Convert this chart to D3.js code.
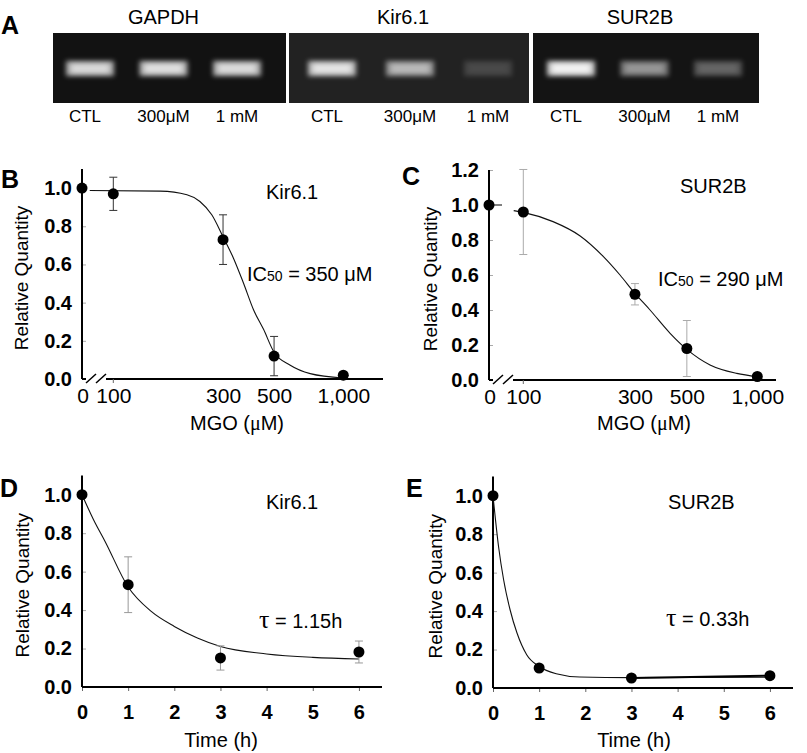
<!DOCTYPE html>
<html>
<head>
<meta charset="utf-8">
<script src="https://d3js.org/d3.v7.min.js"></script>
<style>
  body { margin: 0; background: white; }
  svg text { font-family: 'Liberation Sans', Arial, sans-serif; fill: #000; }
  .panel { font-size: 25px; font-weight: bold; }
  .gelTitle { font-size: 20px; }
  .lane { font-size: 17px; }
  .ytick text { font-size: 20px; font-weight: bold; }
  .xdose text { font-size: 21px; }
  .xtime text { font-size: 20px; font-weight: bold; }
  .atitle { font-size: 20px; }
  .ylab { font-size: 19px; }
  .note { font-size: 20px; }
</style>
</head>
<body>
<svg id="fig" width="807" height="753"></svg>
<script>
// ---- A: RT-PCR gels ----
const gelNames = ['GAPDH', 'Kir6.1', 'SUR2B'];
const laneLabels = ['CTL', '300μM', '1 mM'];
const gapdhBands = [0.85, 0.88, 0.86];
const kirBands = [0.9, 0.68, 0.2];
const surBands = [1.0, 0.55, 0.36];
const gelShade = ['#121212', '#222222', '#141414'];

// ---- B, C: dose response (MGO, μM); 0 = control ----
const doses = [0, 100, 300, 500, 1000];
const doseTicks = [100, 300, 500, 1000];
const doseTickLabels = ['100', '300', '500', '1,000'];
const kirDoseMean = [1.0, 0.97, 0.73, 0.12, 0.02];
const kirDoseErr = [0, 0.087, 0.13, 0.103, 0];
const surDoseMean = [1.0, 0.96, 0.49, 0.18, 0.02];
const surDoseErr = [0, 0.243, 0.061, 0.16, 0];
// fitted curves: [μM, relative quantity]
const kirDoseFit = [[79, 0.987], [160, 0.984], [209, 0.965], [238, 0.93], [268, 0.86], [300, 0.745],
  [333, 0.633], [368, 0.503], [407, 0.363], [450, 0.26], [500, 0.14], [588, 0.072], [718, 0.028], [1000, 0.005]];
const surDoseFit = [[91, 0.968], [100, 0.958], [134, 0.905], [175, 0.823], [220, 0.705], [259, 0.6],
  [300, 0.495], [348, 0.4], [424, 0.267], [500, 0.175], [628, 0.086], [817, 0.038], [1000, 0.019]];

// ---- D, E: time course (h) ----
const hours = [0, 1, 3, 6];
const hourTicks = [0, 1, 2, 3, 4, 5, 6];
const kirTimeMean = [1.0, 0.532, 0.151, 0.182];
const kirTimeErr = [0, 0.145, 0.063, 0.057];
const surTimeMean = [1.0, 0.104, 0.052, 0.064];
const surTimeErr = [0, 0, 0, 0];
const kirTimeFit = [[0, 1], [0.25, 0.87], [0.5, 0.757], [1, 0.52], [1.5, 0.393], [2, 0.315], [2.5, 0.255],
  [3, 0.211], [4, 0.172], [5, 0.154], [6, 0.146]];
const surTimeFit = [[0, 1], [0.12, 0.736], [0.23, 0.563], [0.37, 0.407], [0.52, 0.286], [0.73, 0.173],
  [1, 0.112], [1.37, 0.074], [1.88, 0.057], [3, 0.054], [6, 0.056]];

const svg = d3.select('#fig');
const defs = svg.append('defs');
defs.append('filter').attr('id', 'blur').attr('x', '-40%').attr('y', '-80%').attr('width', '180%').attr('height', '260%')
  .append('feGaussianBlur').attr('stdDeviation', 2.4);

// gels: extent of each gel and where its first / last lane sit inside it
const gelLeft = [53, 289, 533], gelRight = [286, 529, 759];
const laneFirst = [37, 43, 38], laneLast = [184, 199, 185];
const gelTop = 33, gelBottom = 103;
const gelBands = [gapdhBands, kirBands, surBands];

svg.append('text').attr('class', 'panel').attr('x', 1).attr('y', 34).text('A');

gelNames.forEach(function (name, g) {
  const cx = (gelLeft[g] + gelRight[g]) / 2;
  const lane = d3.scalePoint().domain(laneLabels)
    .range([gelLeft[g] + laneFirst[g], gelLeft[g] + laneLast[g]]);
  svg.append('rect')
    .attr('x', gelLeft[g]).attr('y', gelTop)
    .attr('width', gelRight[g] - gelLeft[g]).attr('height', gelBottom - gelTop)
    .attr('fill', gelShade[g]);
  svg.append('text').attr('class', 'gelTitle')
    .attr('x', cx - 6).attr('y', 24).attr('text-anchor', 'middle').text(name);

  const bands = svg.append('g').selectAll('g').data(gelBands[g]).join('g');
  bands.append('rect')
    .attr('x', (d, i) => lane(laneLabels[i]) - 24).attr('y', 61)
    .attr('width', 48).attr('height', 15)
    .attr('fill', '#fff').attr('opacity', d => 0.75 * d)
    .attr('filter', 'url(#blur)');
  bands.append('rect')
    .attr('x', (d, i) => lane(laneLabels[i]) - 19).attr('y', 64)
    .attr('width', 38).attr('height', 9)
    .attr('fill', '#fff').attr('opacity', d => d * d * 0.8)
    .attr('filter', 'url(#blur)');

  svg.append('g').selectAll('text').data(laneLabels).join('text')
    .attr('class', 'lane')
    .attr('x', (d, i) => lane(d) - (i === 0 ? 5 : 0)).attr('y', 122)
    .attr('text-anchor', 'middle').text(d => d);
});

// plots
function plot(o) {
  const g = svg.append('g');
  const y = d3.scaleLinear().domain([0, o.yMax]).range([o.base, o.top]);
  const x = o.x;
  const px = d => (o.log && d === 0) ? o.x0 : x(d);
  const yTicks = d3.range(0, o.yMax + 1e-6, 0.2);

  g.append('text').attr('class', 'panel').attr('x', o.letterX).attr('y', o.letterY).text(o.letter);

  // y tick labels
  g.append('g').attr('class', 'ytick').attr('transform', `translate(${o.x0},0)`)
    .call(d3.axisLeft(y).tickValues(yTicks).tickSize(0).tickPadding(10).tickFormat(d3.format('.1f')))
    .call(a => a.select('.domain').remove())
    .attr('font-size', null).attr('font-family', null);
  // small inward ticks
  g.append('g').attr('transform', `translate(${o.x0},0)`)
    .call(d3.axisRight(y).tickValues(yTicks).tickSize(4).tickFormat(''))
    .call(a => a.select('.domain').remove())
    .selectAll('line').attr('stroke', '#aaa');
  g.append('line')
    .attr('x1', o.x0).attr('x2', o.x0).attr('y1', o.top).attr('y2', o.base)
    .attr('stroke', '#000').attr('stroke-width', 2);

  // y title
  g.append('text').attr('class', 'ylab')
    .attr('transform', `translate(${o.ylabX},${(o.top + o.base) / 2 + 4}) rotate(-90)`)
    .attr('text-anchor', 'middle').attr('dy', '0.35em').text('Relative Quantity');

  if (o.log) {
    const xa = g.append('g').attr('class', 'xdose').attr('transform', `translate(0,${o.base})`)
      .call(d3.axisBottom(x).tickValues(doseTicks).tickFormat((d, i) => doseTickLabels[i]).tickSize(0).tickPadding(9))
      .attr('font-size', null).attr('font-family', null);
    xa.select('.domain').remove();
    xa.append('text').attr('x', o.x0 + 1).attr('y', 9).attr('dy', '0.71em')
      .attr('text-anchor', 'middle').text('0');
    // broken axis
    g.append('line').attr('x1', o.x0).attr('x2', o.x0 + 4).attr('y1', o.base).attr('y2', o.base)
      .attr('stroke', '#000').attr('stroke-width', 2);
    g.append('line').attr('x1', o.x0 + 24).attr('x2', o.xEnd).attr('y1', o.base).attr('y2', o.base)
      .attr('stroke', '#000').attr('stroke-width', 2);
    g.append('g').selectAll('line').data([0, 10]).join('line')
      .attr('x1', d => o.x0 + 4 + d).attr('y1', o.base + 4)
      .attr('x2', d => o.x0 + 14 + d).attr('y2', o.base - 5)
      .attr('stroke', '#000').attr('stroke-width', 1.5);
    g.append('line').attr('x1', x(100)).attr('x2', x(100)).attr('y1', o.base).attr('y2', o.base + 4)
      .attr('stroke', '#666');
  } else {
    const xa = g.append('g').attr('class', 'xtime').attr('transform', `translate(0,${o.base})`)
      .call(d3.axisBottom(x).tickValues(hourTicks).tickFormat(d3.format('d')).tickSize(4).tickPadding(14))
      .attr('font-size', null).attr('font-family', null);
    xa.select('.domain').remove();
    xa.selectAll('line').attr('stroke', '#666');
    g.append('line').attr('x1', o.x0).attr('x2', o.xEnd).attr('y1', o.base).attr('y2', o.base)
      .attr('stroke', '#000').attr('stroke-width', 2);
  }

  // x title
  const t = g.append('text').attr('class', 'atitle').attr('x', o.xtX).attr('y', o.xtY).attr('text-anchor', 'middle');
  if (o.log) {
    t.append('tspan').text('MGO (');
    t.append('tspan').style('font-family', "'Liberation Serif', serif").text('μ');
    t.append('tspan').text('M)');
  } else {
    t.text('Time (h)');
  }

  // fitted curve
  g.append('path').datum(o.fit)
    .attr('d', d3.line().x(d => px(d[0])).y(d => y(d[1])).curve(d3.curveMonotoneX))
    .attr('fill', 'none').attr('stroke', '#111').attr('stroke-width', 1.1);
  if (o.tail) {
    const n = o.xs.length;
    g.append('line')
      .attr('x1', px(o.xs[n - 2])).attr('y1', y(o.mean[n - 2]))
      .attr('x2', px(o.xs[n - 1])).attr('y2', y(o.mean[n - 1]))
      .attr('stroke', '#000').attr('stroke-width', 2);
  }
  if (o.stub) {
    g.append('line').attr('x1', px(0)).attr('x2', px(0) + 13)
      .attr('y1', y(o.mean[0])).attr('y2', y(o.mean[0]))
      .attr('stroke', '#000').attr('stroke-width', 1);
  }

  // error bars
  const pts = o.xs.map((v, i) => ({ x: v, m: o.mean[i], e: o.err[i] })).filter(d => d.e > 0);
  const eb = g.append('g').attr('stroke', o.errColor).attr('stroke-width', 1)
    .selectAll('g').data(pts).join('g');
  eb.append('line').attr('x1', d => px(d.x)).attr('x2', d => px(d.x))
    .attr('y1', d => y(d.m - d.e)).attr('y2', d => y(d.m + d.e));
  eb.append('line').attr('x1', d => px(d.x) - 4).attr('x2', d => px(d.x) + 4)
    .attr('y1', d => y(d.m - d.e)).attr('y2', d => y(d.m - d.e));
  eb.append('line').attr('x1', d => px(d.x) - 4).attr('x2', d => px(d.x) + 4)
    .attr('y1', d => y(d.m + d.e)).attr('y2', d => y(d.m + d.e));

  // points
  g.append('g').selectAll('circle').data(o.xs).join('circle')
    .attr('cx', d => px(d)).attr('cy', (d, i) => y(o.mean[i]))
    .attr('r', 5.5).attr('fill', '#000');

  // annotations
  g.append('text').attr('class', 'note').attr('x', o.nameX).attr('y', o.nameY).text(o.name);
  const s = g.append('text').attr('class', 'note').attr('x', o.statX).attr('y', o.statY);
  if (o.log) {
    s.append('tspan').text('IC');
    s.append('tspan').style('font-size', '14px').text('50');
    s.append('tspan').text(' = ' + o.stat + ' μM');
  } else {
    s.append('tspan').style('font-family', "'Liberation Serif', serif").style('font-size', '26px').text('τ');
    s.append('tspan').text(' = ' + o.stat + 'h');
  }
}

plot({
  letter: 'B', letterX: 1, letterY: 188, log: true,
  x0: 82, base: 379, top: 169, yMax: 1.1, xEnd: 383,
  x: d3.scaleLog().domain([100, 1000]).range([113.3, 343.3]),
  xs: doses, mean: kirDoseMean, err: kirDoseErr, fit: kirDoseFit, errColor: '#333',
  ylabX: 21, xtX: 237, xtY: 430,
  name: 'Kir6.1', nameX: 266, nameY: 199, stat: '350', statX: 247, statY: 281
});
plot({
  letter: 'C', letterX: 402, letterY: 185, log: true, stub: true,
  x0: 489, base: 380, top: 170, yMax: 1.2, xEnd: 776,
  x: d3.scaleLog().domain([100, 1000]).range([523.3, 757.3]),
  xs: doses, mean: surDoseMean, err: surDoseErr, fit: surDoseFit, errColor: '#aaa',
  ylabX: 430, xtX: 644, xtY: 430,
  name: 'SUR2B', nameX: 680, nameY: 193, stat: '290', statX: 658, statY: 286
});
plot({
  letter: 'D', letterX: 0, letterY: 497, log: false,
  x0: 82, base: 687, top: 475.5, yMax: 1.1, xEnd: 382,
  x: d3.scaleLinear().domain([0, 6.5]).range([82, 382]),
  xs: hours, mean: kirTimeMean, err: kirTimeErr, fit: kirTimeFit, errColor: '#999',
  ylabX: 22, xtX: 221, xtY: 747,
  name: 'Kir6.1', nameX: 266, nameY: 509, stat: '1.15', statX: 259, statY: 628
});
plot({
  letter: 'E', letterX: 406, letterY: 497, log: false, tail: true,
  x0: 493, base: 688, top: 476.5, yMax: 1.1, xEnd: 793,
  x: d3.scaleLinear().domain([0, 6.5]).range([493, 793]),
  xs: hours, mean: surTimeMean, err: surTimeErr, fit: surTimeFit, errColor: '#999',
  ylabX: 435, xtX: 634, xtY: 747,
  name: 'SUR2B', nameX: 668, nameY: 509, stat: '0.33', statX: 666, statY: 626
});
</script>
</body>
</html>
